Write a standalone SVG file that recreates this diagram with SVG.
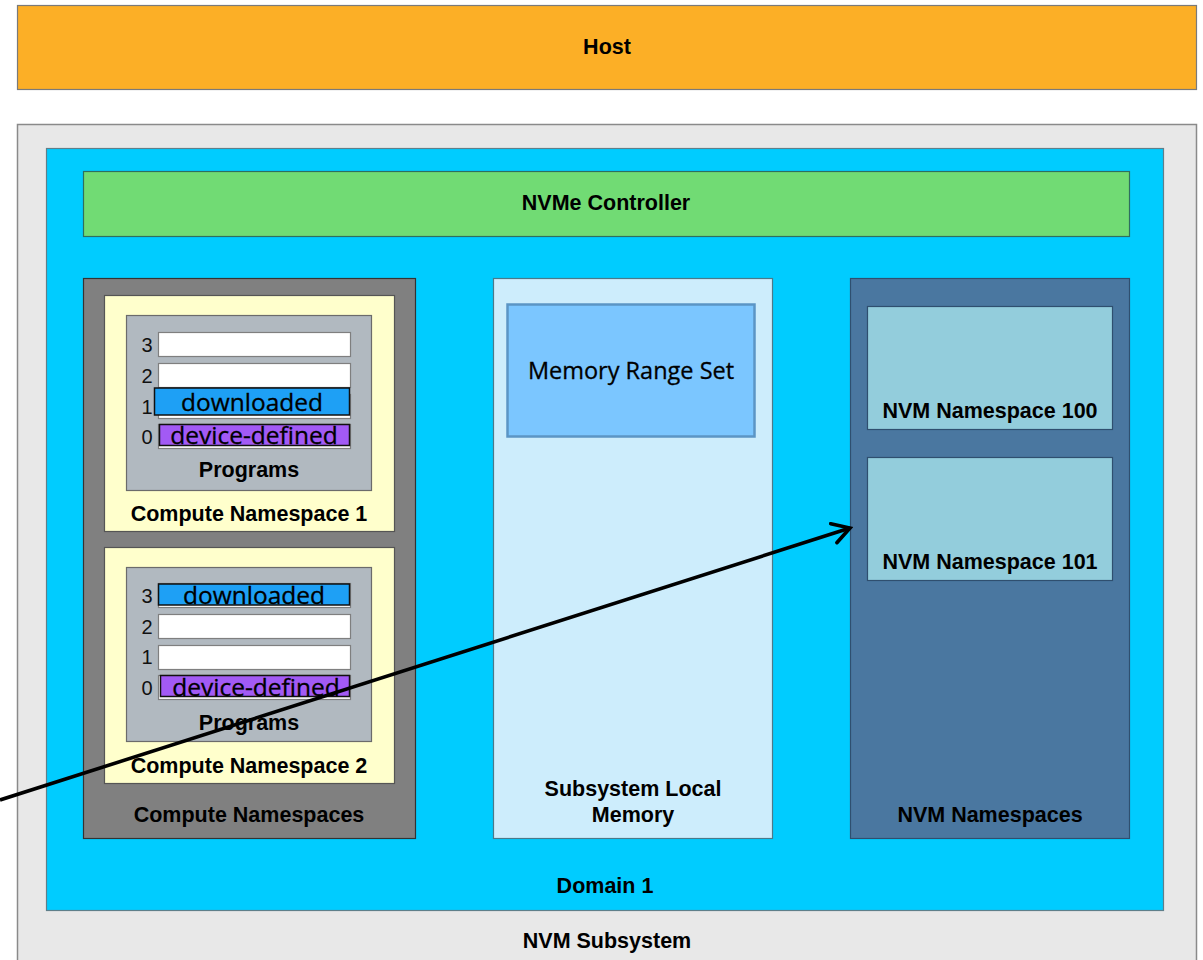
<svg xmlns="http://www.w3.org/2000/svg" width="1203" height="960" viewBox="0 0 1203 960">
  <style>
    .lbl { font-family: "Liberation Sans", Arial, sans-serif; font-weight: bold; font-size: 21.5px; fill: #000; text-anchor: middle; }
    .num { font-family: "Liberation Sans", Arial, sans-serif; font-size: 20px; fill: #111; text-anchor: middle; }
    .tag { font-family: "Open Sans", "Noto Sans", sans-serif; font-size: 24.5px; fill: #000; text-anchor: middle; stroke: #000; stroke-width: 0.3px; }
    .slot { fill: #ffffff; stroke: #7f7f7f; stroke-width: 1.2; }
    .dl { fill: #1ea0f5; stroke: #111; stroke-width: 1.5; }
    .dd { fill: #a25af5; stroke: #111; stroke-width: 1.5; }
    .prog { fill: #b1b9c0; stroke: #6b6b6b; stroke-width: 1.2; }
    .cns { fill: #ffffcc; stroke: #555; stroke-width: 1.2; }
  </style>
  <defs>
    <marker id="chev" viewBox="0 0 24 24" refX="21" refY="12" markerWidth="24" markerHeight="24" orient="auto" markerUnits="userSpaceOnUse">
      <path d="M4 2 L21 12 L4 22" fill="none" stroke="#000" stroke-width="3.6" stroke-linecap="round" stroke-linejoin="miter"/>
    </marker>
  </defs>
  <rect width="1203" height="960" fill="#ffffff"/>

  <g id="host">
    <rect x="17.5" y="5.5" width="1179" height="84" fill="#fcaf26" stroke="#7a7a7a" stroke-width="1.2"/>
    <text class="lbl" x="607" y="54">Host</text>
  </g>

  <g id="nvm-subsystem">
    <rect x="17.5" y="124.5" width="1179" height="845" fill="#e8e8e8" stroke="#8a8a8a" stroke-width="1.5"/>
    <text class="lbl" x="607" y="948">NVM Subsystem</text>
  </g>

  <g id="domain-1">
    <rect x="46.5" y="148.5" width="1117" height="762" fill="#00ccff" stroke="#5f7f8a" stroke-width="1.2"/>
    <text class="lbl" x="605" y="893">Domain 1</text>
  </g>

  <g id="nvme-controller">
    <rect x="83.5" y="171.5" width="1046" height="65" fill="#71db74" stroke="#2f6f5f" stroke-width="1.2"/>
    <text class="lbl" x="606" y="210">NVMe Controller</text>
  </g>

  <g id="compute-namespaces">
    <rect x="83.5" y="278.5" width="332" height="560" fill="#808080" stroke="#333" stroke-width="1.2"/>
    <text class="lbl" x="249" y="822">Compute Namespaces</text>
  </g>

  <g id="compute-namespace-1">
    <rect class="cns" x="104.5" y="295.5" width="290" height="236"/>
    <rect class="prog" x="126.5" y="315.5" width="245" height="175"/>
    <text class="num" x="147" y="352">3</text>
    <rect class="slot" x="158.5" y="332.5" width="192" height="24"/>
    <text class="num" x="147" y="383">2</text>
    <rect class="slot" x="158.5" y="363.5" width="192" height="24"/>
    <text class="num" x="147" y="414">1</text>
    <rect class="slot" x="158.5" y="394.5" width="192" height="24"/>
    <rect class="dl" x="154.5" y="388" width="195" height="27"/>
    <text class="tag" x="252" y="411">downloaded</text>
    <text class="num" x="147" y="444">0</text>
    <rect class="slot" x="158.5" y="424.5" width="192" height="24"/>
    <rect class="dd" x="159.5" y="424.5" width="190" height="21"/>
    <text class="tag" x="254" y="444">device-defined</text>
    <text class="lbl" x="249" y="477">Programs</text>
    <text class="lbl" x="249" y="521">Compute Namespace 1</text>
  </g>

  <g id="compute-namespace-2">
    <rect class="cns" x="104.5" y="547.5" width="290" height="236"/>
    <rect class="prog" x="126.5" y="567.5" width="245" height="174"/>
    <text class="num" x="147" y="603">3</text>
    <rect class="slot" x="158.5" y="583.5" width="192" height="24"/>
    <rect class="dl" x="158.5" y="584" width="191" height="21"/>
    <text class="tag" x="254" y="604">downloaded</text>
    <text class="num" x="147" y="634">2</text>
    <rect class="slot" x="158.5" y="614.5" width="192" height="24"/>
    <text class="num" x="147" y="664">1</text>
    <rect class="slot" x="158.5" y="645.5" width="192" height="24"/>
    <text class="num" x="147" y="695">0</text>
    <rect class="slot" x="158.5" y="675.5" width="192" height="24"/>
    <rect class="dd" x="160.5" y="675.5" width="189" height="21"/>
    <text class="tag" x="256" y="696">device-defined</text>
    <text class="lbl" x="249" y="730">Programs</text>
    <text class="lbl" x="249" y="773">Compute Namespace 2</text>
  </g>

  <g id="subsystem-local-memory">
    <rect x="493.5" y="278.5" width="279" height="560" fill="#cdedfc" stroke="#4a7a8a" stroke-width="1.2"/>
    <text class="lbl" x="633" y="796">Subsystem Local</text>
    <text class="lbl" x="633" y="822">Memory</text>
  </g>

  <g id="memory-range-set">
    <rect x="507.5" y="304.5" width="247" height="132" fill="#7bc6ff" stroke="#5b95c5" stroke-width="2.5"/>
    <text x="631" y="379" font-family="Open Sans, Noto Sans, sans-serif" font-size="23.5" fill="#000" stroke="#000" stroke-width="0.3" text-anchor="middle">Memory Range Set</text>
  </g>

  <g id="nvm-namespaces">
    <rect x="850.5" y="278.5" width="279" height="560" fill="#4a77a0" stroke="#2f4f6f" stroke-width="1.2"/>
    <text class="lbl" x="990" y="822">NVM Namespaces</text>
  </g>

  <g id="nvm-namespace-100">
    <rect x="867.5" y="306.5" width="245" height="123" fill="#93cddc" stroke="#2f4f6f" stroke-width="1.2"/>
    <text class="lbl" x="990" y="418">NVM Namespace 100</text>
  </g>

  <g id="nvm-namespace-101">
    <rect x="867.5" y="457.5" width="245" height="123" fill="#93cddc" stroke="#2f4f6f" stroke-width="1.2"/>
    <text class="lbl" x="990" y="569">NVM Namespace 101</text>
  </g>

  <g id="connectors">
    <line x1="0" y1="800" x2="850" y2="528" stroke="#000" stroke-width="3.6" marker-end="url(#chev)"/>
  </g>
</svg>
